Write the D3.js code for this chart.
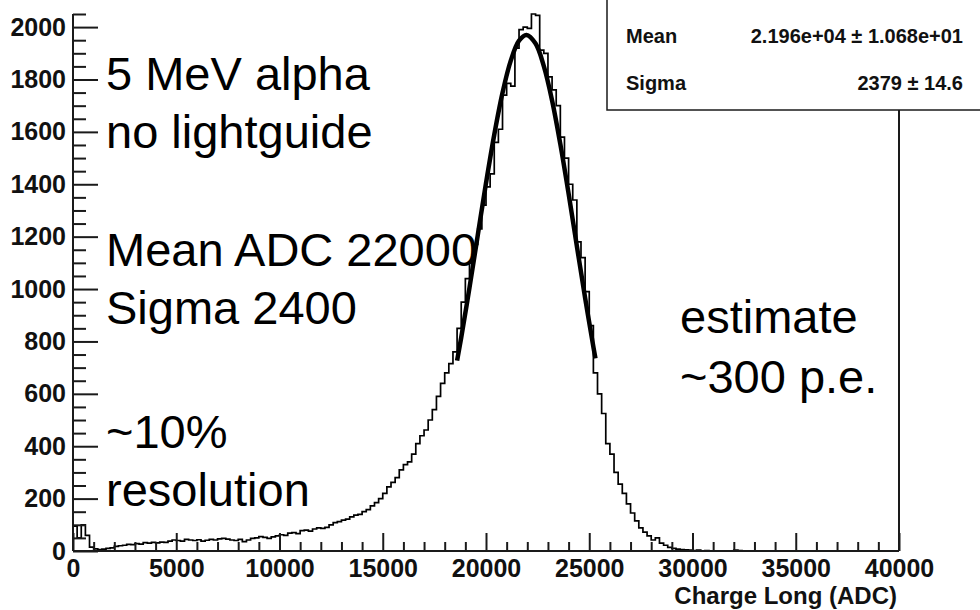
<!DOCTYPE html>
<html>
<head>
<meta charset="utf-8">
<script src="https://cdn.jsdelivr.net/npm/d3@7"></script>
<style>
  body { margin: 0; background: #fff; }
  text { font-family: "Liberation Sans", Arial, Helvetica, sans-serif; }
</style>
</head>
<body>
<div id="chart-area"></div>
<script>
// histogram: 200 bins of 200 ADC from 0 to 40000
const binWidth = 200;
const counts = [
    95, 50, 100, 60, 15,
    8, 5, 7, 10, 12,
    18, 20, 22, 25, 24,
    28, 26, 32, 30, 33,
    31, 34, 33, 38, 42,
    40, 38, 44, 42, 40,
    43, 38, 41, 44, 42,
    46, 48, 45, 42, 40,
    44, 36, 42, 48, 50,
    55, 52, 48, 54, 58,
    62, 60, 68, 70, 66,
    78, 80, 76, 84, 88,
    86, 90, 100, 108, 112,
    118, 122, 130, 137, 140,
    150, 158, 172, 185, 200,
    220, 245, 262, 280, 310,
    330, 340, 370, 410, 440,
    462, 500, 540, 590, 640,
    680, 715, 760, 850, 950,
    1040, 1100, 1170, 1230, 1320,
    1390, 1440, 1560, 1610, 1740,
    1785, 1775, 1920, 1990, 2000,
    1995, 2050, 2045, 1912, 1900,
    1810, 1760, 1700, 1580, 1500,
    1400, 1340, 1180, 1120, 990,
    860, 680, 600, 525, 410,
    370, 300, 255, 220, 180,
    145, 115, 88, 72, 58,
    42, 50, 30, 22, 14,
    10, 7, 5, 4, 3,
    2, 3, 1, 2, 0,
    1, 0, 0, 0, 0,
    3, 2, 0, 0, 0,
    0, 0, 0, 0, 0, 0, 0, 0, 0, 0,
    0, 0, 0, 0, 0, 0, 0, 0, 0, 0,
    0, 0, 0, 0, 0, 0, 0, 0, 0, 0,
    0, 0, 0, 0, 0
];

// gaussian fit curve
const fitX = [18600, 18800, 19200, 19600, 20000, 20400, 20800, 21200, 21600, 21960,
              22400, 22800, 23200, 23600, 24000, 24400, 24800, 25200, 25300];
const fitY = [727, 815, 1005, 1205, 1404, 1589, 1749, 1872, 1948, 1970,
              1937, 1851, 1720, 1553, 1364, 1164, 966, 779, 735];

const xMajorTicks = [0, 5000, 10000, 15000, 20000, 25000, 30000, 35000, 40000];
const yMajorTicks = [0, 200, 400, 600, 800, 1000, 1200, 1400, 1600, 1800, 2000];

const notesLeft = ["5 MeV alpha", "no lightguide", "Mean ADC 22000", "Sigma 2400", "~10%", "resolution"];
const notesLeftY = [90, 148, 266, 324, 448, 506];
const notesRight = ["estimate", "~300 p.e."];
const notesRightY = [333, 393];

const statNames = ["Mean", "Sigma"];
const statValues = ["2.196e+04 \u00b1 1.068e+01", "2379 \u00b1 14.6"];

const width = 980;
const height = 610;
const frame = { left: 73, right: 899, top: 14, bottom: 551 };

const svg = d3.select('#chart-area')
    .append('svg')
    .attr('width', width)
    .attr('height', height)
    .style('background', '#fff');

const x = d3.scaleLinear()
    .domain([0, 40000])
    .range([frame.left, frame.right]);

const y = d3.scaleLinear()
    .domain([0, 2050])
    .range([frame.bottom, frame.top]);

const axisColor = '#1a1a1a';

// histogram step line
const steps = counts.map((c, i) => [i * binWidth, c]);
steps.push([40000, counts[counts.length - 1]]);

const stepLine = d3.line()
    .x(d => x(d[0]))
    .y(d => y(d[1]))
    .curve(d3.curveStepAfter);

svg.append('path')
    .attr('d', stepLine(steps))
    .attr('fill', 'none')
    .attr('stroke', '#000')
    .attr('stroke-width', 1.7);

// fit
const fitLine = d3.line()
    .x(d => x(d[0]))
    .y(d => y(d[1]))
    .curve(d3.curveCatmullRom);

svg.append('path')
    .attr('d', fitLine(fitX.map((v, i) => [v, fitY[i]])))
    .attr('fill', 'none')
    .attr('stroke', '#000')
    .attr('stroke-width', 4.5);

// x axis, ticks pointing up into the frame
const xMinor = d3.range(0, 40001, 1000).filter(v => v % 5000 !== 0);
const gx = svg.append('g')
    .attr('transform', `translate(0, ${frame.bottom})`);
gx.append('g')
    .call(d3.axisBottom(x).tickValues(xMinor).tickSize(-9).tickFormat(''))
    .call(g => g.select('.domain').remove());
gx.append('g')
    .call(d3.axisBottom(x).tickValues(xMajorTicks).tickSize(-18).tickPadding(8)
        .tickFormat(d3.format('d')))
    .call(g => g.select('.domain').remove());
gx.selectAll('text')
    .attr('font-size', '25px')
    .attr('font-weight', 'bold')
    .attr('fill', '#111');

// y axis, ticks pointing right into the frame
const yMinor = d3.range(0, 2051, 50).filter(v => v % 200 !== 0);
const gy = svg.append('g')
    .attr('transform', `translate(${frame.left}, 0)`);
gy.append('g')
    .call(d3.axisLeft(y).tickValues(yMinor).tickSize(-13).tickFormat(''))
    .call(g => g.select('.domain').remove());
gy.append('g')
    .call(d3.axisLeft(y).tickValues(yMajorTicks).tickSize(-25).tickPadding(7)
        .tickFormat(d3.format('d')))
    .call(g => g.select('.domain').remove());
gy.selectAll('text')
    .attr('font-size', '25px')
    .attr('font-weight', 'bold')
    .attr('fill', '#111');

svg.selectAll('.tick line')
    .attr('stroke', axisColor)
    .attr('stroke-width', 2);

// frame lines (no top edge visible)
svg.append('line')
    .attr('x1', frame.left).attr('x2', frame.left)
    .attr('y1', frame.top).attr('y2', frame.bottom)
    .attr('stroke', axisColor).attr('stroke-width', 2);
svg.append('line')
    .attr('x1', frame.left).attr('x2', frame.right)
    .attr('y1', frame.bottom).attr('y2', frame.bottom)
    .attr('stroke', axisColor).attr('stroke-width', 2);
svg.append('line')
    .attr('x1', frame.right).attr('x2', frame.right)
    .attr('y1', frame.top).attr('y2', frame.bottom)
    .attr('stroke', axisColor).attr('stroke-width', 2);

// x axis title
svg.append('text')
    .attr('x', 897)
    .attr('y', 604)
    .attr('text-anchor', 'end')
    .attr('font-size', '24px')
    .attr('font-weight', 'bold')
    .attr('fill', '#111')
    .text('Charge Long (ADC)');

// stats box
svg.append('rect')
    .attr('x', 607)
    .attr('y', -10)
    .attr('width', 400)
    .attr('height', 120)
    .attr('fill', '#fff')
    .attr('stroke', axisColor)
    .attr('stroke-width', 1.5);

svg.selectAll('.stat-name')
    .data(statNames)
    .enter()
    .append('text')
    .attr('class', 'stat-name')
    .attr('x', 626)
    .attr('y', (d, i) => 43 + i * 47)
    .attr('font-size', '20px')
    .attr('font-weight', 'bold')
    .attr('fill', '#111')
    .text(d => d);

svg.selectAll('.stat-value')
    .data(statValues)
    .enter()
    .append('text')
    .attr('class', 'stat-value')
    .attr('x', 963)
    .attr('y', (d, i) => 43 + i * 47)
    .attr('text-anchor', 'end')
    .attr('font-size', '20px')
    .attr('font-weight', 'bold')
    .attr('fill', '#111')
    .text(d => d);

// annotations
svg.selectAll('.note-left')
    .data(notesLeft)
    .enter()
    .append('text')
    .attr('class', 'note-left')
    .attr('x', 106)
    .attr('y', (d, i) => notesLeftY[i])
    .attr('font-size', '47px')
    .attr('fill', '#000')
    .text(d => d);

svg.selectAll('.note-right')
    .data(notesRight)
    .enter()
    .append('text')
    .attr('class', 'note-right')
    .attr('x', 680)
    .attr('y', (d, i) => notesRightY[i])
    .attr('font-size', '47px')
    .attr('fill', '#000')
    .text(d => d);
</script>
</body>
</html>
